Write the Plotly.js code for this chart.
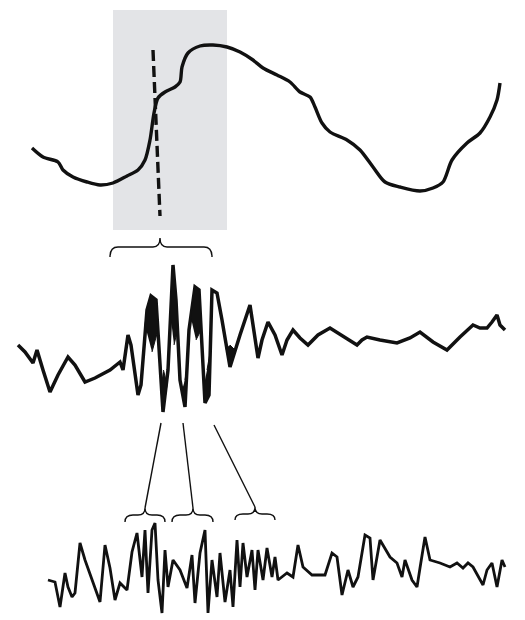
<!DOCTYPE html>
<html>
<head>
<meta charset="utf-8">
<script src="https://cdn.plot.ly/plotly-3.0.1.min.js"></script>
<style>html,body{margin:0;padding:0;background:#fff;}#chart{width:525px;height:620px;}</style>
</head>
<body>
<div id="chart"></div>
<script>
// Slow oscillation (top trace)
const slowX = [32,43,58,63,73,87,100,113,127,138,145,150,154,158,165,175,180,182,188,200,213,227,240,253,263,277,290,300,310,315,322,330,347,360,373,385,400,420,433,443,452,467,480,490,497,500];
const slowY = [148,157,162,170,177,182,185,183,176,170,160,140,113,98,92,87,82,67,53,46,45,47,52,60,68,75,82,92,97,107,123,132,140,150,167,182,187,191,188,182,160,143,133,117,100,83];

// Spindle (middle trace)
const spindleX = [18,25,33,37,43,50,58,68,75,85,95,110,120,123,128,131,138,141,147,151,156,163,168,173,176,180,185,189,195,199,205,209,212,217,222,230,240,250,258,262,268,275,282,287,293,300,308,318,330,345,357,362,367,380,397,410,420,433,447,460,473,480,487,492,497,500,505];
const spindleY = [345,352,363,350,370,392,375,357,365,382,378,370,362,370,335,345,395,385,310,296,300,412,370,265,300,380,407,330,287,290,403,395,290,293,320,367,335,305,358,340,322,335,355,340,330,338,345,335,328,338,345,340,337,340,343,338,332,342,350,337,325,328,328,322,315,325,330];

// Filled wedges of the spindle cycles
const wedgeX = [[145,147,151,156,158,152],[170.5,173,176,177.5,174],[191,195,199,201,196],[160.5,163,167,163.5],[182,185,187.5,185],[204,205,209,210.5,207],[226,230,235,230]];
const wedgeY = [[325,310,296,300,330,352],[315,265,300,330,345],[318,287,290,330,340],[385,412,385,370],[390,407,365,380],[385,403,395,350,370],[348,367,350,345]];

// Ripples (bottom trace)
const rippleX = [48,55,60,65,68,72,75,80,85,92,100,105,110,115,120,127,132,137,142,145,148,152,155,158,162,165,168,173,180,187,192,195,200,205,208,212,217,220,225,230,233,237,240,243,247,252,255,258,263,267,272,275,278,287,293,298,303,312,325,332,337,342,348,353,358,365,370,373,380,390,397,402,405,412,417,420,425,430,440,450,457,463,468,473,483,487,492,497,502,505];
const rippleY = [580,582,607,573,587,597,593,543,560,580,602,545,568,600,583,590,552,533,577,530,593,530,523,580,613,550,587,560,570,588,555,603,553,530,613,560,597,553,602,570,607,540,587,543,577,550,590,550,580,548,577,557,580,573,577,545,567,575,575,553,557,595,570,587,577,535,538,580,540,557,563,577,560,580,587,568,537,560,563,567,563,568,563,567,585,570,563,587,560,567];

const black = '#111';
const traces = [
  {x: slowX, y: slowY, mode: 'lines', line: {color: black, width: 3.4, shape: 'spline', smoothing: 0.8}, hoverinfo: 'skip'},
  {x: spindleX, y: spindleY, mode: 'lines', line: {color: black, width: 3.5, shape: 'linear'}, hoverinfo: 'skip'},
  {x: rippleX, y: rippleY, mode: 'lines', line: {color: black, width: 2.8, shape: 'linear'}, hoverinfo: 'skip'}
];
wedgeX.forEach((wx, i) => {
  traces.push({x: wx, y: wedgeY[i], mode: 'lines', fill: 'toself', fillcolor: black, line: {color: black, width: 1}, hoverinfo: 'skip'});
});

function brace(x0, x1, tip, yTip, yArm, yEnd) {
  return `M${x0},${yEnd} Q${x0},${yArm} ${x0+8},${yArm} L${tip-7},${yArm} Q${tip},${yArm} ${tip},${yTip} Q${tip},${yArm} ${tip+7},${yArm} L${x1-8},${yArm} Q${x1},${yArm} ${x1},${yEnd}`;
}

const shapes = [
  {type: 'rect', xref: 'x', yref: 'y', x0: 113, x1: 227, y0: 10, y1: 230, fillcolor: '#e3e4e7', line: {width: 0}, layer: 'below'},
  {type: 'line', xref: 'x', yref: 'y', x0: 153, y0: 50, x1: 160, y1: 216, line: {color: black, width: 3.4, dash: '11px,5px'}},
  {type: 'path', xref: 'x', yref: 'y', path: brace(110, 212, 160, 238, 247, 257), line: {color: black, width: 1.4}},
  {type: 'path', xref: 'x', yref: 'y', path: brace(125, 165, 145, 508, 515, 522), line: {color: black, width: 1.4}},
  {type: 'path', xref: 'x', yref: 'y', path: brace(172, 213, 193, 508, 515, 522), line: {color: black, width: 1.4}},
  {type: 'path', xref: 'x', yref: 'y', path: brace(235, 275, 255, 507, 514, 520), line: {color: black, width: 1.4}},
  {type: 'line', xref: 'x', yref: 'y', x0: 161, y0: 423, x1: 145, y1: 508, line: {color: black, width: 1.4}},
  {type: 'line', xref: 'x', yref: 'y', x0: 183, y0: 423, x1: 193, y1: 508, line: {color: black, width: 1.4}},
  {type: 'line', xref: 'x', yref: 'y', x0: 214, y0: 425, x1: 255, y1: 507, line: {color: black, width: 1.4}}
];

const layout = {
  width: 525, height: 620,
  margin: {l: 0, r: 0, t: 0, b: 0},
  paper_bgcolor: '#fff', plot_bgcolor: '#fff',
  showlegend: false,
  xaxis: {range: [0, 525], visible: false, fixedrange: true},
  yaxis: {range: [620, 0], visible: false, fixedrange: true},
  shapes: shapes
};

Plotly.newPlot('chart', traces, layout, {staticPlot: true, displayModeBar: false});
</script>
</body>
</html>
